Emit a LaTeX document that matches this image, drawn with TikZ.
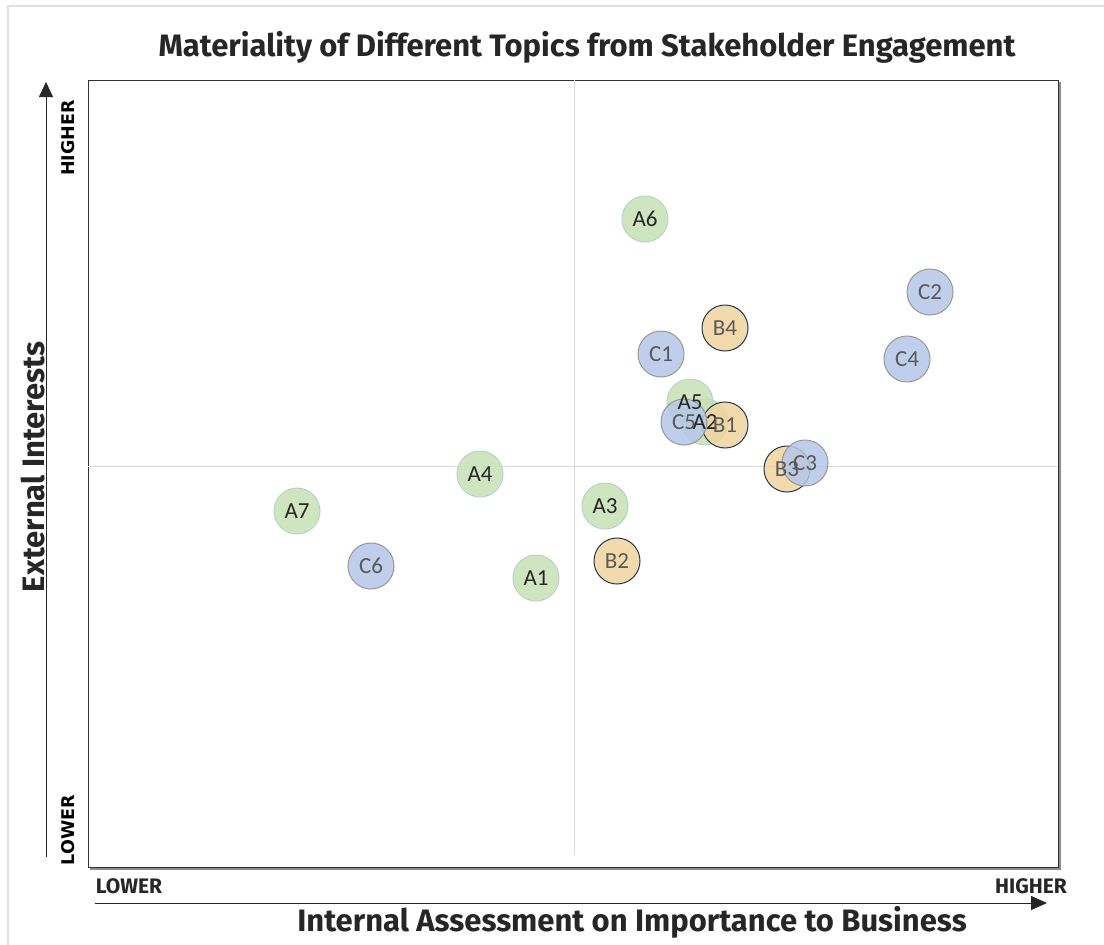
\documentclass[tikz,border=0pt]{standalone}
\usepackage{fontspec}
\setmainfont{Carlito}
\newfontfamily\headfont{Fira Sans}
\newfontfamily\tickfont{DejaVu Sans}
\usetikzlibrary{arrows.meta, positioning}
\definecolor{topicgreen}{HTML}{C6E0B4}
\definecolor{greenedge}{HTML}{B5D5C8}
\definecolor{topicblue}{HTML}{B4C7E7}
\definecolor{blueedge}{HTML}{979797}
\definecolor{topicorange}{HTML}{F0D49E}
\definecolor{orangeedge}{HTML}{1F3A55}
\definecolor{midline}{HTML}{DADADA}
\definecolor{labeldark}{HTML}{262626}
\definecolor{labelgray}{HTML}{595959}

\begin{document}
\begin{tikzpicture}[x=1pt, y=-1pt,
    bubble/.style={circle, minimum size=46pt, inner sep=0pt, line width=1pt, fill opacity=0.85},
    grnbub/.style={bubble, fill=topicgreen, draw=greenedge},
    orgbub/.style={bubble, fill=topicorange, draw=orangeedge},
    blubub/.style={bubble, fill=topicblue, draw=blueedge},
    tag/.style={inner sep=0pt, font=\fontsize{23}{23}\selectfont},
    axistitle/.style={font=\headfont\bfseries\fontsize{31}{31}\selectfont, text=black!85},
    endtag/.style={font=\headfont\bfseries\fontsize{21}{21}\selectfont, text=black!85},
    sidetag/.style={rotate=90, font=\tickfont\bfseries\fontsize{17.5}{17.5}\selectfont}
]
    \useasboundingbox (0,0) rectangle (1104,945);

    % Frame
    \draw[black!12, line width=1.2pt] (8,945) -- (8,6) -- (1104,6);

    % Title
    \node[axistitle] (title) at (587,47) {Materiality of Different Topics from Stakeholder Engagement};

    % Plot box and quadrant lines
    \draw[black!45, line width=1.5pt] (90,869) -- (1060,869) -- (1060,82);
    \draw[black!80, line width=1pt] (88,80) rectangle (1058,867);
    \draw[midline, line width=1pt] (574,80) -- (574,855);
    \draw[midline, line width=1pt] (88,466) -- (1058,466);

    % Axes
    \coordinate (ylow) at (46,857);
    \coordinate (yhigh) at (46,82);
    \draw[-{Triangle[length=15pt, width=14pt]}, line width=0.8pt, black!85] (ylow) -- (yhigh);
    \coordinate (xlow) at (95,903);
    \coordinate (xhigh) at (1047,903);
    \draw[-{Triangle[length=16pt, width=14pt]}, line width=0.8pt, black!85] (xlow) -- (xhigh);

    \node[sidetag] (yhigher) at (68,138) {HIGHER};
    \node[sidetag] (ylower) at (68,830) {LOWER};
    \node[rotate=90, axistitle] (ytitle) at (33,467) {External Interests};
    \node[endtag] (xlower) at (129,886) {LOWER};
    \node[endtag] (xhigher) at (1031,886) {HIGHER};
    \node[axistitle] (xtitle) at (632,922) {Internal Assessment on Importance to Business};

    % Topics
    \foreach \name/\px/\py in {A1/536/578, A2/705/422, A3/605/506, A4/480/474, A5/690/402, A6/645/219, A7/297/511}
        \node[grnbub] (\name) at (\px,\py) {};
    \foreach \name/\px/\py in {B1/725/425, B2/617/561, B3/787/469, B4/725/328}
        \node[orgbub] (\name) at (\px,\py) {};
    \foreach \name/\px/\py in {C1/661/354, C2/930/292, C3/805/463, C4/907/359, C5/684/422, C6/371/566}
        \node[blubub] (\name) at (\px,\py) {};

    % Labels on top
    \foreach \name in {A1,A2,A3,A4,A5,A6,A7}
        \node[tag, text=labeldark] (\name-t) at (\name) {\name};
    \foreach \name in {B1,B2,B3,B4,C1,C2,C3,C4,C5,C6}
        \node[tag, text=labelgray] (\name-t) at (\name) {\name};
\end{tikzpicture}
\end{document}
